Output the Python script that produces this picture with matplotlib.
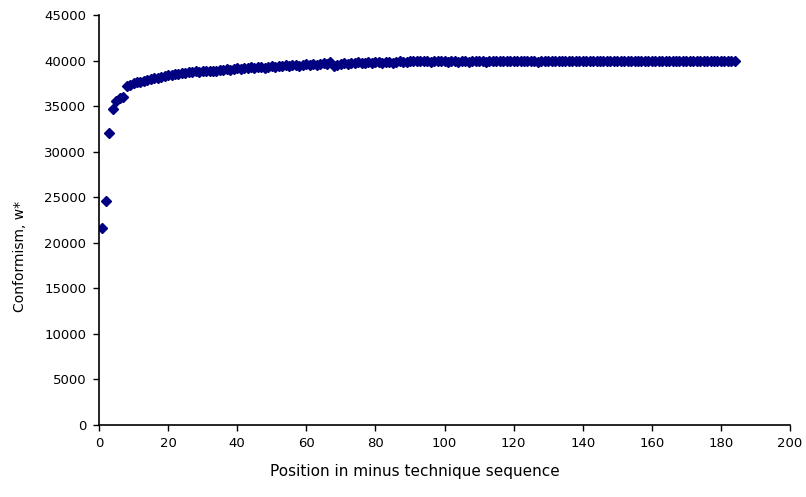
import numpy as np
import matplotlib
matplotlib.use('Agg')
import matplotlib.pyplot as plt

# Conformism values by position
vals_01_20 = [21600, 24600, 32100, 34700, 35600, 35900, 36000, 37200, 37300, 37500,
              37600, 37700, 37800, 37900, 38000, 38100, 38100, 38200, 38300, 38400]
vals_21_40 = [38400, 38500, 38500, 38600, 38600, 38700, 38700, 38800, 38700, 38800,
              38900, 38900, 38800, 38900, 39000, 39000, 39100, 39000, 39100, 39200]
vals_41_60 = [39100, 39200, 39200, 39300, 39200, 39300, 39300, 39200, 39300, 39400,
              39300, 39400, 39400, 39500, 39400, 39500, 39500, 39400, 39500, 39600]
vals_61_80 = [39500, 39600, 39500, 39600, 39700, 39600, 39800, 39400, 39500, 39600,
              39700, 39600, 39700, 39700, 39800, 39700, 39700, 39800, 39700, 39800]
vals_81_100 = [39800, 39700, 39800, 39800, 39700, 39800, 39900, 39800, 39800, 39900,
               39900, 40000, 40000, 39900, 39900, 39800, 39900, 39900, 39900, 39900]
vals_101_120 = [39800, 39900, 39900, 39800, 39900, 39900, 39800, 39900, 39900, 40000,
                39900, 39800, 39900, 39900, 39900, 40000, 39900, 39900, 40000, 39900]
vals_121_140 = [39900, 40000, 39900, 40000, 40000, 39900, 39800, 39900, 39900, 40000,
                39900, 39900, 40000, 39900, 39900, 40000, 39900, 40000, 39900, 40000]
vals_141_160 = [40000, 39900, 39900, 40000, 40000, 39900, 40000, 40000, 39900, 40000,
                40000, 39900, 40000, 40000, 39900, 40000, 40000, 39900, 40000, 40000]
vals_161_184 = [39900, 40000, 40000, 39900, 40000, 40000, 39900, 40000, 40000, 39900,
                40000, 40000, 39900, 40000, 40000, 39900, 40000, 39900, 40000, 40000,
                39900, 40000, 39900, 39900]

conformism = (vals_01_20 + vals_21_40 + vals_41_60 + vals_61_80 + vals_81_100 +
              vals_101_120 + vals_121_140 + vals_141_160 + vals_161_184)
position = np.arange(1, len(conformism) + 1)

x_ticks = list(range(0, 201, 20))
y_ticks = list(range(0, 45001, 5000))

plt.rcParams['font.family'] = ['DejaVu Sans']

fig = plt.figure(figsize=(8.06, 4.97), dpi=100)
ax = fig.add_axes([0.1228, 0.1449, 0.8574, 0.8249])

ax.plot(position, conformism, linestyle='none', marker='D', markersize=4.6,
        color='#000080', markeredgecolor='#000080')

ax.set_xlim(0, 200)
ax.set_ylim(0, 45000)
ax.set_xticks(x_ticks)
ax.set_yticks(y_ticks)
ax.tick_params(direction='out', length=4, width=1, labelsize=9.5, pad=5)

for side in ['top', 'right']:
    ax.spines[side].set_visible(False)
for side in ['left', 'bottom']:
    ax.spines[side].set_linewidth(1.2)

ax.set_xlabel('Position in minus technique sequence', fontsize=11, labelpad=8)
ax.set_ylabel('Conformism, w*', fontsize=10, labelpad=12)
ax.xaxis.set_label_coords(0.457, -0.095)
ax.yaxis.set_label_coords(-0.104, 0.41)

fig.savefig('out.png', dpi=100)
